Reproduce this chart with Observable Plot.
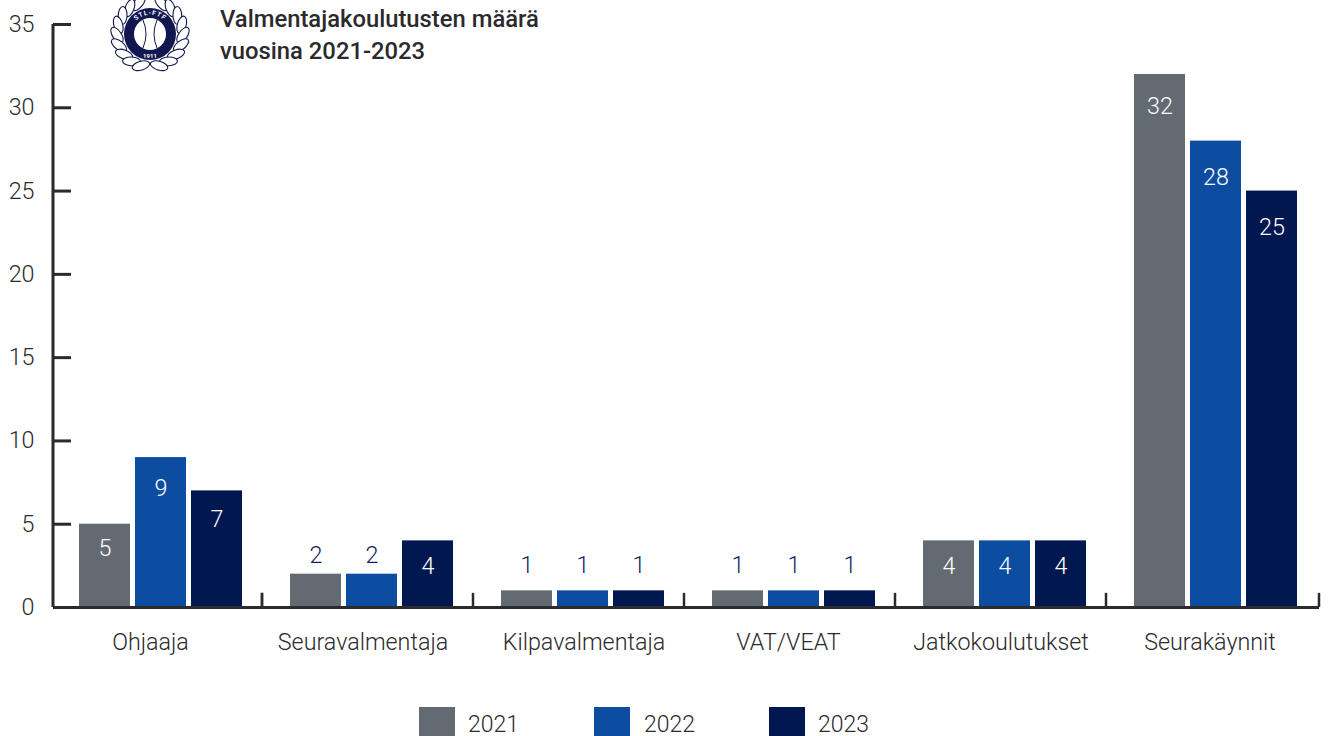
<!DOCTYPE html>
<html>
<head>
<meta charset="utf-8">
<script src="https://cdn.jsdelivr.net/npm/d3@7"></script>
<script src="https://cdn.jsdelivr.net/npm/@observablehq/plot@0.6"></script>
<style>
html,body{margin:0;padding:0;background:#fff;overflow:hidden}
#wrap{position:relative;width:1329px;height:736px;font-family:Roboto,sans-serif;color:#2b2a2c}
#title{position:absolute;left:220px;top:3px;font-size:23.8px;line-height:32px;font-weight:500;white-space:nowrap}
#logo{position:absolute;left:108px;top:-8px}
.lg{position:absolute;top:707px;height:29px;width:36px}
.lt{position:absolute;top:710px;font-size:23px;font-weight:300;line-height:30px}
</style>
</head>
<body>
<div id="wrap">
<div id="chart"></div>
<svg id="logo" width="84" height="84" viewBox="-42 -42 84 84">
  <g id="wreath" fill="#fff" stroke="#12174f" stroke-width="1.1"></g>
  <circle r="26" fill="#12174f"/>
  <circle r="16" fill="#fff"/>
  <path d="M-7-14Q-1 0-7 14M7-14Q1 0 7 14" fill="none" stroke="#12174f" stroke-width="1"/>
  <defs><path id="arcTop" d="M-18.5 -6A19.5 19.5 0 0 1 18.5 -6"/></defs>
  <text font-family="Roboto" font-weight="700" font-size="6.5" fill="#fff" letter-spacing=".8"><textPath href="#arcTop" startOffset="50%" text-anchor="middle">STL-FTF</textPath></text>
  <text y="24" text-anchor="middle" font-family="Roboto" font-weight="700" font-size="6" fill="#fff">1911</text>
</svg>
<div id="title">Valmentajakoulutusten määrä<br>vuosina 2021-2023</div>
<div id="legend"></div>
</div>
<script>
const categories = ["Ohjaaja","Seuravalmentaja","Kilpavalmentaja","VAT/VEAT","Jatkokoulutukset","Seurakäynnit"];
const years = ["2021","2022","2023"];
const values2021 = [5,2,1,1,4,32];
const values2022 = [9,2,1,1,4,28];
const values2023 = [7,4,1,1,4,25];
const yTicks = [0,5,10,15,20,25,30,35];
const colors = ["#636a71","#0c4da2","#00174f"];
const labelShift = [-10.5,-9,1,-5.5,-4,-6];

const rows = [];
categories.forEach((c,i)=>{
  rows.push({category:c,year:years[0],value:values2021[i]});
  rows.push({category:c,year:years[1],value:values2022[i]});
  rows.push({category:c,year:years[2],value:values2023[i]});
});
const ink = "#2b2a2c";
const navyText = "#10235f";
const toLeft = -52, toRight = 47;
const labelBase = {fx:"category",x:"year",y:"value",text:"value",fontSize:23.3,fontWeight:300};
const valueLabelGap = new Map([[1,-25],[2,-19],[4,26],[5,24],[7,29],[9,31],[25,36],[28,36],[32,32]]);

const plot = Plot.plot({
  width:1329,height:660,
  marginLeft:52,marginRight:10,marginTop:24,marginBottom:53,
  style:{fontFamily:"Roboto,sans-serif",background:"transparent"},
  fx:{domain:categories,padding:0,axis:null,label:null},
  x:{domain:years,range:[77.5,241.5],paddingInner:0.094,paddingOuter:0,axis:null,label:null},
  y:{domain:[0,35],axis:null,label:null},
  color:{domain:years,range:colors},
  marks:[
    Plot.barY(rows,{fx:"category",x:"year",y:"value",fill:"year"}),
    Plot.ruleY([0],{stroke:ink,strokeWidth:3}),
    Plot.ruleX(categories.slice(1),{fx:d=>d,x:()=>"2021",y1:0,y2:0.85,dx:toLeft-2,stroke:ink,strokeWidth:2.5}),
    Plot.ruleX(categories.slice(0,1),{fx:d=>d,x:()=>"2021",y1:0,y2:0.85,dx:toLeft+209,stroke:ink,strokeWidth:2.5}),
    Plot.ruleX(categories.slice(5),{fx:d=>d,x:()=>"2023",y1:0,y2:0.85,dx:toRight,stroke:ink,strokeWidth:2.5}),
    Plot.ruleX(categories.slice(0,1),{fx:d=>d,x:()=>"2021",y1:0,y2:35,dx:toLeft,stroke:ink,strokeWidth:3}),
    Plot.axisY(yTicks,{anchor:"left",tickSize:-18,tickPadding:37,fontSize:23.3,fontWeight:300,strokeWidth:3,stroke:ink,fill:ink,label:null,textStroke:"none"}),
    ...[...valueLabelGap].map(([v,gap])=>Plot.text(rows.filter(d=>d.value===v),{...labelBase,fill:gap<0?navyText:"#fff",dy:gap})),
    ...categories.map((c,i)=>Plot.text([c],{fx:d=>d,x:()=>"2022",y:()=>0,text:d=>d,dx:labelShift[i],dy:35,fontSize:23.3,fontWeight:300,fill:ink}))
  ]
});
document.getElementById("chart").appendChild(plot);

const legend = document.getElementById("legend");
const swatchLeft = [419,594,769], textLeft=[468,644,818];
years.forEach((y,i)=>{
  const s=document.createElement("div");s.className="lg";s.style.left=swatchLeft[i]+"px";s.style.background=colors[i];legend.appendChild(s);
  const t=document.createElement("div");t.className="lt";t.style.left=textLeft[i]+"px";t.textContent=y;legend.appendChild(t);
});
const w=document.getElementById("wreath");
for(const side of [-1,1]){
  for(let a=20;a<=165;a+=18){
    const e=document.createElementNS("http://www.w3.org/2000/svg","ellipse");
    e.setAttribute("rx",4.4);e.setAttribute("ry",9);
    e.setAttribute("transform",`rotate(${side*a}) translate(0,-33) rotate(${side*-58})`);
    w.appendChild(e);
  }
}
</script>
</body>
</html>
